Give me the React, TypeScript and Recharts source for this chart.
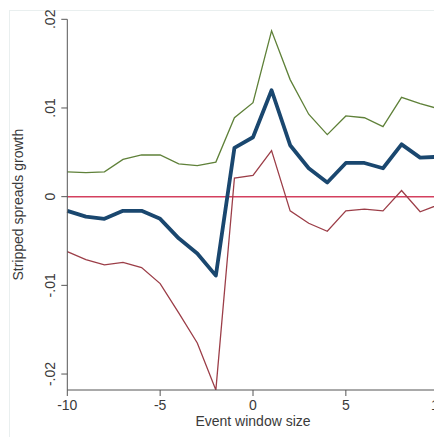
import React from 'react';
import { LineChart, Line, XAxis, YAxis, ReferenceLine } from 'recharts';

const eventWindow = [-10, -9, -8, -7, -6, -5, -4, -3, -2, -1, 0, 1, 2, 3, 4, 5, 6, 7, 8, 9, 10];
const meanGrowth = [-0.0016, -0.00225, -0.0025, -0.0016, -0.0016, -0.0025, -0.0047, -0.0064, -0.0089, 0.0055, 0.0067, 0.012, 0.0058, 0.0032, 0.0016, 0.0038, 0.0038, 0.0032, 0.0059, 0.0044, 0.0045];
const upperBound = [0.0028, 0.0027, 0.0028, 0.0042, 0.0047, 0.0047, 0.0037, 0.0035, 0.0039, 0.0089, 0.0106, 0.0187, 0.0132, 0.0093, 0.007, 0.0091, 0.0089, 0.0079, 0.0112, 0.0105, 0.0099];
const lowerBound = [-0.0062, -0.0071, -0.0077, -0.0074, -0.008, -0.0098, -0.0131, -0.0165, -0.0218, 0.0021, 0.0024, 0.0052, -0.0016, -0.003, -0.0039, -0.0016, -0.0014, -0.0016, 0.0007, -0.0017, -0.0009];
const xTicks = [-10, -5, 0, 5, 10];
const yTicks = [-0.02, -0.01, 0, 0.01, 0.02];
const yTickLabels = ['-.02', '-.01', '0', '.01', '.02'];

const data = eventWindow.map((t, i) => ({ t, mean: meanGrowth[i], upper: upperBound[i], lower: lowerBound[i] }));

const FONT = '"Liberation Sans", Arial, sans-serif';
const TEXT = '#3a3a3a';
const AXIS = '#555555';

const YTick = (props: any) => {
  const { x, y, payload } = props;
  const idx = yTicks.findIndex((v) => Math.abs(v - payload.value) < 1e-9);
  const label = idx >= 0 ? yTickLabels[idx] : String(payload.value);
  const cx = x - 7;
  return (
    <text x={cx} y={y} transform={`rotate(-90, ${cx}, ${y})`} textAnchor="middle" dominantBaseline="central" fontSize={14} fill={TEXT} fontFamily={FONT}>
      {label}
    </text>
  );
};

const YTitle = (props: any) => {
  const vb = props.viewBox || {};
  const cy = vb.y + vb.height / 2;
  return (
    <text x={18} y={cy} transform={`rotate(-90, 18, ${cy})`} textAnchor="middle" dominantBaseline="central" fontSize={14} fill={TEXT} fontFamily={FONT}>
      Stripped spreads growth
    </text>
  );
};

const XTitle = (props: any) => {
  const vb = props.viewBox || {};
  return (
    <text x={vb.x + vb.width / 2} y={vb.y + 36.3} textAnchor="middle" fontSize={14} fill={TEXT} fontFamily={FONT}>
      Event window size
    </text>
  );
};

export default function App() {
  return (
    <div style={{ position: 'fixed', left: 0, top: 0, width: 434, height: 437, overflow: 'hidden', background: '#ffffff' }}>
      <div style={{ position: 'absolute', left: 9, top: 10, width: 1000, height: 1000, borderLeft: '1px solid #e9efef', borderTop: '1px solid #e9efef' }} />
      <LineChart width={450} height={437} data={data} margin={{ top: 19.3, right: 11.3, left: 0, bottom: 7 }}>
        <XAxis
          dataKey="t"
          type="number"
          domain={[-10, 10]}
          ticks={xTicks}
          tickSize={6}
          tickMargin={4}
          height={40}
          stroke={AXIS}
          tick={{ fontSize: 14, fill: TEXT, fontFamily: FONT }}
          tickLine={{ stroke: AXIS }}
          label={<XTitle />}
          interval={0}
        />
        <YAxis
          type="number"
          domain={[-0.0218, 0.02]}
          ticks={yTicks}
          allowDataOverflow
          width={67.3}
          tickSize={6}
          tickMargin={4}
          stroke={AXIS}
          tickLine={{ stroke: AXIS }}
          tick={<YTick />}
          label={<YTitle />}
          interval={0}
        />
        <ReferenceLine y={0} stroke="#d4405f" strokeWidth={1.5} ifOverflow="extendDomain" />
        <Line type="linear" dataKey="upper" stroke="#5f8139" strokeWidth={1.3} dot={false} isAnimationActive={false} />
        <Line type="linear" dataKey="lower" stroke="#9c3e48" strokeWidth={1.3} dot={false} isAnimationActive={false} />
        <Line type="linear" dataKey="mean" stroke="#1a476f" strokeWidth={3.8} dot={false} strokeLinejoin="round" isAnimationActive={false} />
      </LineChart>
    </div>
  );
}
